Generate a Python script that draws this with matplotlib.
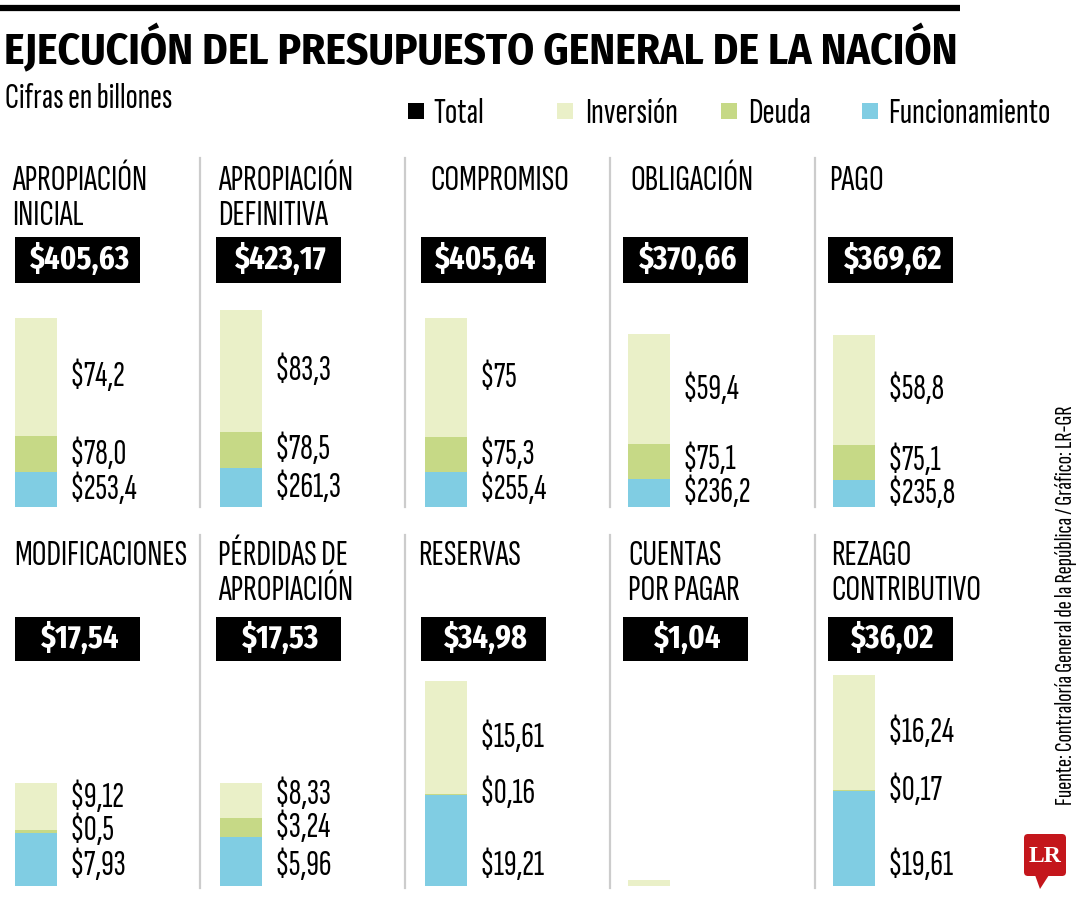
import matplotlib
matplotlib.use('Agg')
import matplotlib.pyplot as plt
from matplotlib.patches import Rectangle, FancyBboxPatch, Polygon

plt.rcParams['font.family'] = ['Sofia Sans Extra Condensed', 'DejaVu Sans']

# Datos (billones de pesos)
top_titles = ['APROPIACIÓN\nINICIAL', 'APROPIACIÓN\nDEFINITIVA', 'COMPROMISO', 'OBLIGACIÓN', 'PAGO']
top_totals = [405.63, 423.17, 405.64, 370.66, 369.62]
top_func = [253.4, 261.3, 255.4, 236.2, 235.8]
top_deuda = [78.0, 78.5, 75.3, 75.1, 75.1]
top_inv = [74.2, 83.3, 75, 59.4, 58.8]

bot_titles = ['MODIFICACIONES', 'PÉRDIDAS DE\nAPROPIACIÓN', 'RESERVAS', 'CUENTAS\nPOR PAGAR', 'REZAGO\nCONTRIBUTIVO']
bot_totals = [17.54, 17.53, 34.98, 1.04, 36.02]
bot_func = [7.93, 5.96, 19.21, 1.04, 19.61]
bot_deuda = [0.5, 3.24, 0.16, 0, 0.17]
bot_inv = [9.12, 8.33, 15.61, 0, 16.24]

legend_names = ['Total', 'Inversión', 'Deuda', 'Funcionamiento']

C_INV = '#EAF0C8'
C_DEU = '#C6D986'
C_FUN = '#80CDE3'
GRIS = '#CCCCCC'
BOLD = ['Fira Sans Extra Condensed', 'DejaVu Sans']

def fmt(v):
    return '$' + str(v).replace('.', ',')

def fmt_total(v):
    return '$' + f'{v:.2f}'.replace('.', ',')

fig = plt.figure(figsize=(10.8, 9), dpi=100)
bg = fig.add_axes([0, 0, 1, 1])
bg.set_xlim(0, 1080)
bg.set_ylim(900, 0)
bg.axis('off')
rend = fig.canvas.get_renderer()

def size_for(s, target, vertical=False, **kw):
    t = fig.text(0, 0, s, fontsize=20, **kw)
    bb = t.get_window_extent(rend)
    t.remove()
    return 20 * target / (bb.height if vertical else bb.width)

# linea superior y titulo
bg.plot([0, 960], [8, 8], color='black', lw=4.5, solid_capstyle='butt')
title = 'EJECUCIÓN DEL PRESUPUESTO GENERAL DE LA NACIÓN'
tkw = dict(fontweight='bold', family=['Fira Sans Condensed', 'DejaVu Sans'])
bg.text(4, 64, title, fontsize=size_for(title, 954, **tkw), va='baseline', ha='left', **tkw)
bg.text(5, 108, 'Cifras en billones', fontsize=size_for('Cifras en billones', 167), va='baseline')

# leyenda
fs_leg = size_for('Funcionamiento', 162)
leg_sq = [408, 557, 721, 862]
leg_tx = [433, 585, 748, 888]
for name, col, sx, tx in zip(legend_names, ['black', C_INV, C_DEU, C_FUN], leg_sq, leg_tx):
    bg.add_patch(Rectangle((sx, 103), 16, 16, color=col, lw=0))
    bg.text(tx, 123, name, fontsize=fs_leg, va='baseline')

fs_title = size_for('MODIFICACIONES', 174)
fs_box = size_for('$405,63', 100, fontweight='bold', family=BOLD)
fs_lab = size_for('$253,4', 68)

bar_x = [15, 220, 425, 628, 833]
box_x = [15, 216, 421, 623, 828]
div_x = [200, 405, 610, 815]

rows = [
    dict(titles=top_titles, totals=top_totals, func=top_func, deu=top_deuda, inv=top_inv,
         title_x=[12, 218, 430, 630, 829], title_y=190, box_y=237, box_h=46,
         base=507, max_px=197, div=(158, 507)),
    dict(titles=bot_titles, totals=bot_totals, func=bot_func, deu=bot_deuda, inv=bot_inv,
         title_x=[14, 218, 418, 628, 831], title_y=565, box_y=617, box_h=44,
         base=886, max_px=211, div=(535, 888)),
]

AX_H = 230
AX_W = 190
for row in rows:
    for x in div_x:
        bg.plot([x, x], row['div'], color=GRIS, lw=1.6)
    scale = max(row['totals']) / row['max_px']
    for i in range(5):
        # titulo del panel
        for k, line in enumerate(row['titles'][i].split('\n')):
            bg.text(row['title_x'][i], row['title_y'] + 35 * k, line, fontsize=fs_title, va='baseline')
        # caja del total
        bg.add_patch(Rectangle((box_x[i], row['box_y']), 125, row['box_h'], color='black', lw=0))
        bg.text(box_x[i] + 65, row['box_y'] + row['box_h'] / 2, fmt_total(row['totals'][i]),
                color='white', fontsize=fs_box, fontweight='bold', family=BOLD,
                ha='center', va='center')

        # barra apilada
        ax = fig.add_axes([bar_x[i] / 1080, (900 - row['base']) / 900, AX_W / 1080, AX_H / 900])
        ax.set_xlim(0, AX_W)
        ax.set_ylim(0, AX_H * scale)
        ax.axis('off')
        heights = [row['inv'][i], row['deu'][i], row['func'][i]]
        texts = [row['func'][i], row['deu'][i], row['inv'][i]]
        cols = [C_FUN, C_DEU, C_INV]
        bottom = 0
        centers = []
        for h, c in zip(heights, cols):
            if h > 0:
                ax.bar(0, h, bottom=bottom, width=42, align='edge', color=c, lw=0)
            centers.append(bottom + h / 2)
            bottom += h
        if sum(1 for h in heights if h > 0) < 2:
            continue
        gap = 33 * scale
        ys = []
        for k, cy in enumerate(centers):
            if k == 0:
                y = min(cy, 20 * scale)
            else:
                y = max(cy, ys[-1] + gap)
            ys.append(y)
        for y, v in zip(ys, texts):
            ax.text(55, y, fmt(v), fontsize=fs_lab, va='center', ha='left')

# fuente
src = 'Fuente: Contraloría General de la República / Gráfico: LR-GR'
bg.text(1066, 805, src, rotation=90, fontsize=size_for(src, 400), ha='center', va='bottom')

# logo LR
bg.add_patch(FancyBboxPatch((1024, 834), 42, 42, boxstyle='round,pad=0,rounding_size=4',
                            color='#C4161C', lw=0))
bg.add_patch(Polygon([[1035, 875], [1049, 875], [1040, 889]], closed=True, color='#C4161C', lw=0))
bg.text(1045, 856, 'LR', color='white', fontsize=17, fontweight='bold',
        family=['Liberation Serif', 'DejaVu Serif'], ha='center', va='center')

fig.savefig('out.png', dpi=100)
